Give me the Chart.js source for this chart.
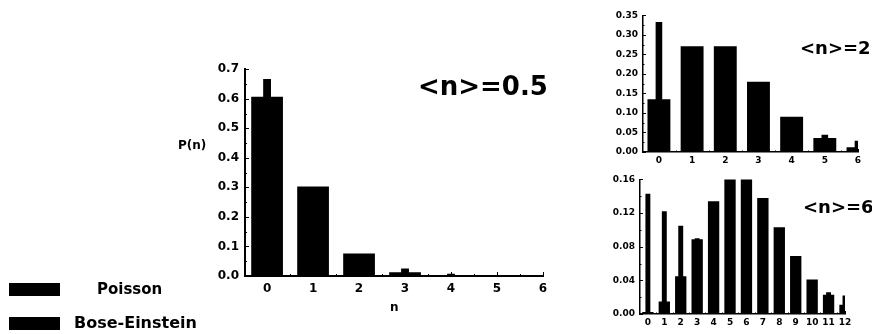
<!DOCTYPE html>
<html>
<head>
<meta charset="utf-8">
<script src="https://cdn.jsdelivr.net/npm/chart.js@4.4.1/dist/chart.umd.min.js"></script>
<style>
    html, body { margin: 0; padding: 0; background: #fff; }
    body { width: 872px; height: 334px; position: relative; overflow: hidden;
           font-family: "DejaVu Sans", sans-serif; font-weight: bold; color: #000; }
    .box { position: absolute; }
    .lbl { position: absolute; white-space: nowrap; line-height: 1; }
    .swatch { position: absolute; background: #000; width: 51px; height: 13px; }
</style>
</head>
<body>

<div class="box" style="left:190px; top:56px; width:365px; height:250px;"><canvas id="chartMain"></canvas></div>
<div class="box" style="left:600px; top:5px; width:265px; height:165px;"><canvas id="chartMid"></canvas></div>
<div class="box" style="left:597px; top:169px; width:260px; height:165px;"><canvas id="chartHigh"></canvas></div>

<span class="lbl" style="left:418px; top:73px; font-size:26px;">&lt;n&gt;=0.5</span>
<span class="lbl" style="left:800px; top:39px; font-size:18px;">&lt;n&gt;=2</span>
<span class="lbl" style="left:803px; top:198px; font-size:18px;">&lt;n&gt;=6</span>
<span class="lbl" style="left:178px; top:139px; font-size:12px;">P(n)</span>
<span class="lbl" style="left:390px; top:301px; font-size:12px;">n</span>

<div class="swatch" style="left:9px; top:283px;"></div>
<span class="lbl" style="left:97px; top:282px; font-size:15px;">Poisson</span>
<div class="swatch" style="left:9px; top:317px;"></div>
<span class="lbl" style="left:74px; top:315px; font-size:16px;">Bose-Einstein</span>

<script>
// --- Données : <n> = 0.5 ---
const mainN       = [0, 1, 2, 3, 4, 5, 6];
const mainPoisson = [0.607, 0.303, 0.076, 0.013, 0.002, 0.0002, 0.00002];
const mainBose    = [0.667, 0.222, 0.074, 0.025, 0.008, 0.003, 0.001];
const mainYTicks  = [0, 0.1, 0.2, 0.3, 0.4, 0.5, 0.6, 0.7];

// --- Données : <n> = 2 ---
const midN       = [0, 1, 2, 3, 4, 5, 6];
const midPoisson = [0.135, 0.271, 0.271, 0.180, 0.090, 0.036, 0.012];
const midBose    = [0.333, 0.222, 0.148, 0.099, 0.066, 0.044, 0.029];
const midYTicks  = [0, 0.05, 0.10, 0.15, 0.20, 0.25, 0.30, 0.35];

// --- Données : <n> = 6 ---
const highN       = [0, 1, 2, 3, 4, 5, 6, 7, 8, 9, 10, 11, 12];
const highPoisson = [0.0025, 0.015, 0.045, 0.089, 0.134, 0.161, 0.161, 0.138, 0.103, 0.069, 0.041, 0.023, 0.011];
const highBose    = [0.143, 0.122, 0.105, 0.090, 0.077, 0.066, 0.057, 0.049, 0.042, 0.036, 0.031, 0.026, 0.022];
const highYTicks  = [0, 0.04, 0.08, 0.12, 0.16];

const FONT = '"DejaVu Sans", sans-serif';

// petites graduations tournées vers l'intérieur (majeures + mineures)
const innerTicks = {
    id: 'innerTicks',
    afterDatasetsDraw(chart, args, opts) {
        const { ctx, chartArea } = chart;
        const xs = chart.scales.x, ys = chart.scales.y;
        ctx.save();
        ctx.strokeStyle = '#000';
        ctx.lineWidth = opts.width;
        ctx.beginPath();
        const xv = xs.ticks.map(t => t.value);
        xv.forEach((v, i) => {
            const px = Math.round(xs.getPixelForValue(v)) + 0.5;
            ctx.moveTo(px, chartArea.bottom);
            ctx.lineTo(px, chartArea.bottom - opts.major);
            if (i < xv.length - 1) {
                const pm = Math.round(xs.getPixelForValue((v + xv[i + 1]) / 2)) + 0.5;
                ctx.moveTo(pm, chartArea.bottom);
                ctx.lineTo(pm, chartArea.bottom - opts.minor);
            }
        });
        const yv = ys.ticks.map(t => t.value);
        yv.forEach((v, i) => {
            const py = Math.round(ys.getPixelForValue(v)) + 0.5;
            ctx.moveTo(chartArea.left, py);
            ctx.lineTo(chartArea.left + opts.major, py);
            if (i < yv.length - 1) {
                const pm = Math.round(ys.getPixelForValue((v + yv[i + 1]) / 2)) + 0.5;
                ctx.moveTo(chartArea.left, pm);
                ctx.lineTo(chartArea.left + opts.minor, pm);
            }
        });
        ctx.stroke();
        ctx.restore();
    }
};

function makeChart(id, cfg) {
    const pts = arr => arr.map((v, i) => ({ x: cfg.n[i], y: v }));
    return new Chart(document.getElementById(id), {
        type: 'bar',
        data: {
            datasets: [
                {
                    label: 'Poisson',
                    data: pts(cfg.poisson),
                    backgroundColor: '#000',
                    borderWidth: 0,
                    barPercentage: 0.69,
                    categoryPercentage: 1,
                    grouped: false,
                    clip: 0
                },
                {
                    label: 'Bose-Einstein',
                    data: pts(cfg.bose),
                    backgroundColor: '#000',
                    borderWidth: 0,
                    barPercentage: cfg.narrow,
                    categoryPercentage: 1,
                    grouped: false,
                    clip: 0
                }
            ]
        },
        options: {
            responsive: true,
            maintainAspectRatio: false,
            animation: false,
            layout: { padding: { left: 0, top: cfg.padTop, right: cfg.padRight, bottom: 0 } },
            plugins: {
                legend: { display: false },
                tooltip: { enabled: false },
                innerTicks: { major: cfg.tickLen, minor: cfg.tickLen / 2, width: 1 }
            },
            scales: {
                x: {
                    type: 'linear',
                    offset: false,
                    min: -0.48,
                    max: cfg.n[cfg.n.length - 1],
                    grid: { display: false, drawTicks: false },
                    border: { display: true, color: '#000', width: cfg.axisWidth },
                    afterBuildTicks: s => { s.ticks = cfg.n.map(v => ({ value: v })); },
                    afterFit: s => { s.height = cfg.xHeight; },
                    ticks: {
                        autoSkip: false,
                        maxRotation: 0,
                        padding: cfg.xPad,
                        color: '#000',
                        font: { family: FONT, size: cfg.fontSize, weight: 'bold' },
                        callback: v => String(v)
                    }
                },
                y: {
                    min: 0,
                    max: cfg.yTicks[cfg.yTicks.length - 1],
                    grid: { display: false, drawTicks: false },
                    border: { display: true, color: '#000', width: cfg.axisWidth },
                    afterBuildTicks: s => { s.ticks = cfg.yTicks.map(v => ({ value: v })); },
                    afterFit: s => { s.width = cfg.yWidth; },
                    ticks: {
                        padding: cfg.yPad,
                        color: '#000',
                        font: { family: FONT, size: cfg.fontSize, weight: 'bold' },
                        callback: v => v.toFixed(cfg.decimals)
                    }
                }
            }
        },
        plugins: [innerTicks]
    });
}

makeChart('chartMain', {
    n: mainN, poisson: mainPoisson, bose: mainBose, yTicks: mainYTicks,
    narrow: 0.17, decimals: 1, fontSize: 12, yWidth: 55, xHeight: 30,
    padTop: 10, padRight: 12, xPad: 6, yPad: 6, tickLen: 4, axisWidth: 2
});

makeChart('chartMid', {
    n: midN, poisson: midPoisson, bose: midBose, yTicks: midYTicks,
    narrow: 0.2, decimals: 2, fontSize: 9, yWidth: 43, xHeight: 18,
    padTop: 10, padRight: 7, xPad: 3, yPad: 5, tickLen: 3, axisWidth: 1.5
});

makeChart('chartHigh', {
    n: highN, poisson: highPoisson, bose: highBose, yTicks: highYTicks,
    narrow: 0.3, decimals: 2, fontSize: 9, yWidth: 43, xHeight: 20,
    padTop: 10, padRight: 12, xPad: 3, yPad: 5, tickLen: 3, axisWidth: 1.5
});
</script>
</body>
</html>
